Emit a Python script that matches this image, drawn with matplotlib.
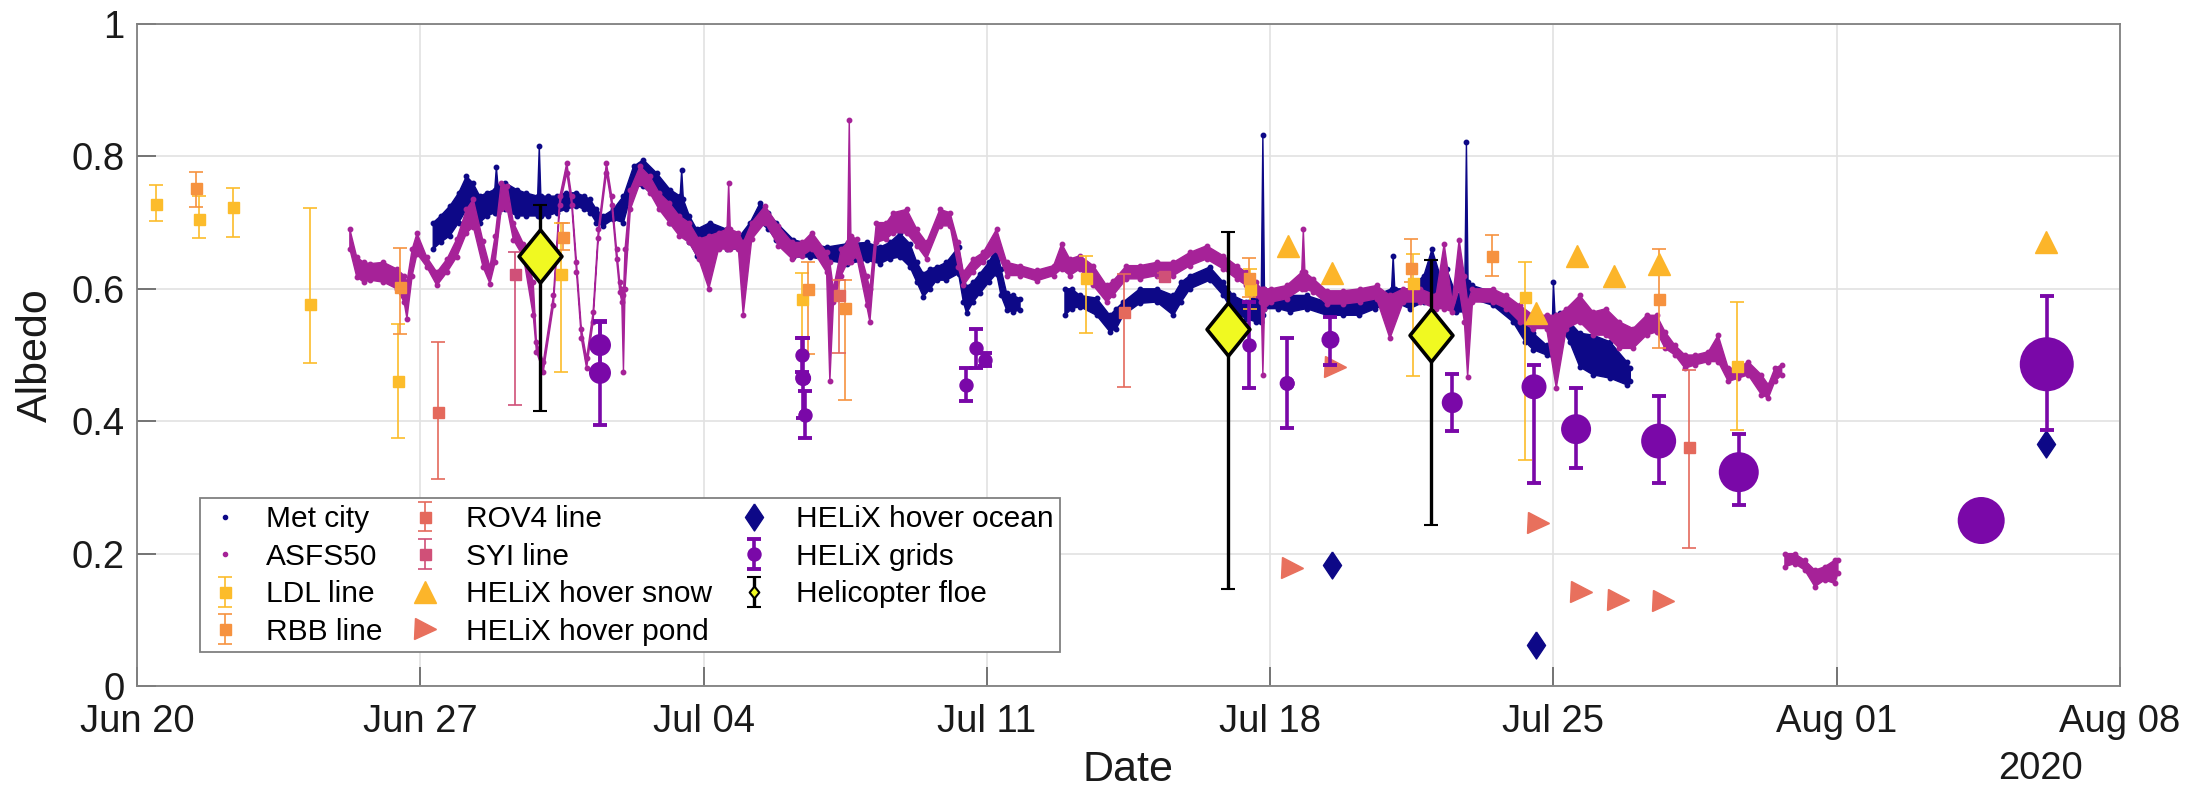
import numpy as np
import matplotlib
matplotlib.use("Agg")
import matplotlib.pyplot as plt
import matplotlib.dates as mdates
from matplotlib.lines import Line2D
from matplotlib.ticker import FormatStrFormatter

plt.rcParams["font.family"] = ["Liberation Sans", "DejaVu Sans"]

# ---- data: days after 2020-06-20 00:00, albedo ----
# Met city / ASFS50 are dense 1-min records: kept here as lower/upper envelope
met_day = [7.32, 7.50, 7.73, 7.95, 8.14, 8.30, 8.47, 8.65, 8.84, 8.88, 8.92, 9.10, 9.38, 9.60,
           9.90, 9.94, 9.98, 10.15, 10.37, 10.60, 10.86, 11.05, 11.20, 11.35, 11.52, 11.77,
           12.02, 12.27, 12.51, 12.84, 13.17, 13.42, 13.46, 13.50, 13.65, 13.83, 14.16, 14.57,
           14.90, 15.15, 15.40, 15.60, 15.80, 16.22, 16.63, 17.04, 17.54, 18.03, 18.36, 18.60,
           18.85, 19.10, 19.27, 19.43, 19.60, 19.76, 20.00, 20.30, 20.42, 20.50, 20.66, 20.83,
           21.05, 21.24, 21.35, 21.49, 21.65, 21.82, 22.40, 22.93, 23.10, 23.30, 23.71, 24.04,
           24.20, 24.37, 24.78, 25.20, 25.61, 25.80, 26.02, 26.51, 26.84, 27.08, 27.41, 27.65,
           27.78, 27.82, 27.86, 28.20, 28.50, 28.90, 29.40, 29.80, 30.20, 30.60, 31.00, 31.04,
           31.08, 31.45, 31.80, 32.00, 32.20, 32.36, 32.60, 32.81, 32.85, 32.89, 33.00, 33.50,
           34.00, 34.30, 34.50, 34.83, 34.96, 35.00, 35.04, 35.16, 35.40, 35.65, 35.98, 36.40,
           36.81, 36.90]
met_lo = [.66, .67, .68, .70, .72, .71, .70, .71, .715, .715, .715, .72, .71, .71,
          .71, .71, .71, .71, .715, .72, .725, .72, .715, .70, .695, .705,
          .70, .755, .755, .735, .70, .70, .70, .70, .67, .65, .675, .66,
          .66, .68, .70, .69, .673, .648, .648, .643, .638, .643, .638, .645,
          .648, .633, .61, .588, .60, .613, .613, .623, .58, .563, .58, .593,
          .61, .623, .59, .568, .565, .568, np.nan, .56, .57, .573, .56, .535,
          .54, .56, .578, .58, .56, .58, .60, .613, .59, .565, .555, .55,
          .55, .56, .57, .57, .565, .57, .56, .56, .56, .57, .58, .58,
          .58, .57, .58, .59, .58, .58, .565, .565, .58, .58, .585, .575,
          .55, .52, .508, .50, .50, .51, .52, .543, .52, .482, .47, .465,
          .455, .46]
met_hi = [.70, .71, .725, .745, .77, .76, .74, .745, .75, .784, .755, .76, .75, .745,
          .74, .815, .74, .74, .74, .745, .745, .74, .735, .72, .71, .72,
          .74, .785, .795, .775, .75, .74, .78, .735, .71, .69, .70, .69,
          .68, .70, .73, .715, .70, .674, .668, .663, .668, .67, .663, .67,
          .684, .668, .64, .623, .63, .633, .64, .663, .62, .603, .61, .623,
          .64, .663, .63, .593, .59, .585, np.nan, .60, .60, .59, .586, .56,
          .57, .58, .60, .60, .59, .61, .62, .633, .61, .59, .58, .59,
          .59, .832, .60, .59, .59, .59, .58, .58, .58, .59, .60, .65,
          .60, .60, .62, .66, .62, .63, .59, .60, .822, .61, .605, .595,
          .57, .55, .533, .515, .52, .61, .56, .563, .55, .533, .53, .52,
          .49, .48]

asfs_day = [5.26, 5.43, 5.60, 5.76, 6.09, 6.42, 6.60, 6.67, 6.80, 6.92, 7.16, 7.41, 7.66, 7.90,
            8.14, 8.31, 8.55, 8.72, 8.85, 9.00, 9.15, 9.30, 9.55, 9.79, 9.87, 10.04, 10.29,
            10.45, 10.62, 10.74, 10.86, 10.98, 11.11, 11.27, 11.40, 11.60, 11.73, 11.85, 11.93,
            11.98, 12.02, 12.06, 12.19, 12.43, 12.67, 12.90, 13.15, 13.40, 13.64, 13.88, 14.13,
            14.37, 14.58, 14.62, 14.66, 14.86, 14.98, 15.19, 15.52, 15.85, 16.19, 16.44, 16.68,
            17.04, 17.12, 17.21, 17.40, 17.56, 17.60, 17.64, 17.78, 18.03, 18.11, 18.27, 18.52,
            18.69, 19.02, 19.27, 19.51, 19.84, 20.09, 20.29, 20.42, 20.66, 20.91, 21.24, 21.49,
            21.82, 22.23, 22.65, 22.85, 23.05, 23.30, 23.63, 23.96, 24.12, 24.45, 24.78, 25.20,
            25.61, 26.02, 26.43, 26.84, 27.17, 27.41, 27.65, 27.78, 27.82, 27.86, 28.03, 28.41,
            28.78, 28.82, 28.86, 29.07, 29.40, 29.81, 30.22, 30.63, 30.96, 31.29, 31.70, 32.10,
            32.30, 32.50, 32.67, 32.80, 32.88, 33.00, 33.50, 33.84, 34.17, 34.50, 34.83, 35.07,
            35.32, 35.65, 35.98, 36.30, 36.63, 36.97, 37.30, 37.55, 37.76, 38.00, 38.25, 38.50,
            38.83, 39.07, 39.32, 39.57, 39.81, 40.14, 40.31, 40.47, 40.64, 40.68, 40.72, 40.96,
            41.21, 41.46, 41.70, 41.95, 42.03]
asfs_lo = [.66, .618, .61, .613, .61, .60, .58, .555, .62, .653, .633, .605, .625, .648,
           .684, .694, .633, .608, .64, .72, .72, .674, .648, .56, .505, .475, .575,
           .727, .775, .727, .625, .525, .48, .55, .677, .775, .727, .645, .595,
           .58, .475, .60, .72, .76, .745, .72, .70, .68, .67, .645, .60,
           .66, .66, .66, .66, .66, .56, .675, .70, .665, .645, .65, .66,
           .625, .46, .58, .62, .64, .64, .64, .65, .575, .55, .67, .675,
           .685, .684, .665, .645, .695, .695, .633, .605, .625, .64, .658, .62,
           .62, .612, .62, .63, .62, .63, .605, .58, .59, .615, .615, .62,
           .62, .635, .645, .63, .615, .605, .59, .58, .47, .57, .58, .585,
           .60, .605, .60, .595, .577, .577, .58, .585, .525, .58, .58, .57,
           .57, .565, .60, .55, .467, .58, .58, .57, .55, .54, .54, .45,
           .54, .55, .53, .53, .51, .51, .53, .535, .51, .50, .48, .485,
           .49, .49, .46, .465, .47, .44, .435, .46, .47, np.nan, .18, .185,
           .175, .15, .16, .155, .17]
asfs_hi = [.69, .648, .64, .638, .64, .63, .62, .61, .66, .684, .648, .625, .645, .675,
           .72, .735, .672, .633, .68, .76, .755, .70, .668, .61, .52, .49, .59,
           .74, .79, .74, .64, .54, .495, .565, .69, .79, .74, .66, .61,
           .60, .59, .66, .75, .785, .77, .745, .73, .71, .70, .675, .68,
           .685, .69, .76, .69, .685, .67, .70, .725, .695, .67, .67, .685,
           .655, .64, .60, .66, .67, .855, .68, .675, .62, .60, .70, .70,
           .715, .72, .69, .67, .72, .715, .67, .625, .645, .655, .69, .64,
           .635, .628, .635, .668, .645, .65, .635, .605, .612, .635, .635, .64,
           .64, .655, .665, .65, .635, .625, .61, .60, .60, .60, .60, .605,
           .625, .69, .625, .615, .597, .597, .60, .605, .59, .60, .60, .59,
           .668, .58, .674, .62, .58, .60, .60, .59, .575, .56, .56, .56,
           .57, .59, .565, .57, .55, .54, .56, .56, .535, .515, .50, .50,
           .505, .53, .48, .48, .49, .47, .455, .48, .485, np.nan, .20, .20,
           .19, .175, .18, .19, .19]

ldl_day = [0.46, 1.52, 2.38, 4.28, 6.46, 10.48, 16.43, 23.46, 27.50, 31.52, 34.30, 39.53]
ldl_val = [0.728, 0.705, 0.724, 0.577, 0.461, 0.623, 0.584, 0.617, 0.600, 0.609, 0.588, 0.483]
ldl_lo = [0.025, 0.029, 0.046, 0.089, 0.086, 0.148, 0.060, 0.084, 0.030, 0.141, 0.247, 0.097]
ldl_hi = [0.029, 0.035, 0.028, 0.145, 0.086, 0.076, 0.040, 0.033, 0.030, 0.044, 0.052, 0.097]

rbb_day = [1.46, 6.51, 10.53, 16.59, 17.49, 27.48, 31.49, 33.47, 37.62]
rbb_val = [0.752, 0.602, 0.679, 0.599, 0.571, 0.617, 0.631, 0.649, 0.585]
rbb_lo = [0.029, 0.071, 0.020, 0.097, 0.139, 0.030, 0.020, 0.030, 0.075]
rbb_hi = [0.025, 0.059, 0.020, 0.042, 0.042, 0.030, 0.044, 0.033, 0.075]

rov_day = [7.45, 17.35, 24.38, 38.34]
rov_val = [0.414, 0.591, 0.565, 0.361]
rov_lo = [0.101, 0.088, 0.113, 0.153]
rov_hi = [0.105, 0.022, 0.058, 0.116]

syi_day = [9.34, 25.38]
syi_val = [0.623, 0.620]
syi_lo = [0.199, 0.004]
syi_hi = [0.033, 0.004]

snow_day = [28.45, 29.54, 34.57, 35.57, 36.50, 37.60, 47.18]
snow_val = [0.665, 0.624, 0.563, 0.649, 0.619, 0.638, 0.671]

pond_day = [28.53, 29.60, 34.63, 35.67, 36.60, 37.70]
pond_val = [0.178, 0.482, 0.246, 0.142, 0.130, 0.128]

ocean_day = [29.54, 34.56, 47.18]
ocean_val = [0.183, 0.062, 0.366]

grid_day = [11.44, 11.44, 16.44, 16.46, 16.50, 20.48, 20.73, 20.95, 27.48, 28.42, 29.49,
            32.50, 34.52, 35.56, 37.60, 39.58, 45.57, 47.19]
grid_val = [0.515, 0.473, 0.500, 0.465, 0.410, 0.455, 0.510, 0.493, 0.515, 0.457, 0.523,
            0.428, 0.452, 0.388, 0.370, 0.323, 0.250, 0.486]
grid_lo = [0.035, 0.079, 0.025, 0.060, 0.035, 0.025, 0.030, 0.010, 0.065, 0.068, 0.038,
           0.043, 0.146, 0.059, 0.063, 0.050, 0.0, 0.099]
grid_hi = [0.035, 0.079, 0.025, 0.060, 0.035, 0.025, 0.030, 0.010, 0.065, 0.068, 0.035,
           0.043, 0.033, 0.062, 0.068, 0.057, 0.0, 0.103]

floe_day = [9.96, 26.95, 31.97]
floe_val = [0.649, 0.540, 0.530]
floe_lo = [0.233, 0.394, 0.287]
floe_hi = [0.078, 0.146, 0.113]

# marker diameters (px) of the grid circles
grid_marker_px = [22, 22, 12, 16, 12, 10, 10, 10, 12, 15, 18, 21, 25, 30, 35, 40, 47, 54]

START = np.datetime64("2020-06-20T00:00")


def to_date(days):
    days = np.asarray(days, dtype=float)
    return START + np.round(days * 1440).astype("timedelta64[m]")


PT = 0.72  # points per pixel at dpi 100
NAVY = "#0d0887"
MAGENTA = "#a62298"
PURPLE = "#7a08a8"
LDL_C = "#fcbc2b"
RBB_C = "#f6923f"
ROV_C = "#e4695c"
SYI_C = "#d05078"
SNOW_C = "#fcb52a"
POND_C = "#e8705d"
YELLOW = "#f0f921"

floe_diamond = [(0, 1), (0.81, 0), (0, -1), (-0.81, 0), (0, 1)]
ocean_diamond = [(0, 1), (0.67, 0), (0, -1), (-0.67, 0), (0, 1)]

fig = plt.figure(figsize=(22.09, 7.91), dpi=100)
ax = fig.add_axes([137 / 2209, 105 / 791, 1983 / 2209, 662 / 791])

# dense records: envelope band with dotted edges
for d, lo, hi, c, z in [(met_day, met_lo, met_hi, NAVY, 2),
                        (asfs_day, asfs_lo, asfs_hi, MAGENTA, 3)]:
    t = to_date(d)
    ax.fill_between(t, lo, hi, color=c, lw=1.0, zorder=z)
    ax.plot(t, lo, ls="none", marker="o", ms=3.2, color=c, zorder=z)
    ax.plot(t, hi, ls="none", marker="o", ms=3.2, color=c, zorder=z)


def line_bar(days, vals, lo, hi, color):
    return ax.errorbar(to_date(days), vals, yerr=[lo, hi], fmt="s", color=color,
                       ms=11 * PT, mec=color, elinewidth=1.2, capsize=4.7,
                       capthick=1.2, zorder=4)


h_ldl = line_bar(ldl_day, ldl_val, ldl_lo, ldl_hi, LDL_C)
h_rbb = line_bar(rbb_day, rbb_val, rbb_lo, rbb_hi, RBB_C)
h_rov = line_bar(rov_day, rov_val, rov_lo, rov_hi, ROV_C)
h_syi = line_bar(syi_day, syi_val, syi_lo, syi_hi, SYI_C)

h_snow, = ax.plot(to_date(snow_day), snow_val, ls="none", marker="^", ms=23 * PT,
                  color=SNOW_C, zorder=5)
h_pond, = ax.plot(to_date(pond_day), pond_val, ls="none", marker=">", ms=21 * PT,
                  color=POND_C, zorder=5)
h_ocean, = ax.plot(to_date(ocean_day), ocean_val, ls="none", marker=ocean_diamond,
                   ms=27 * PT, color=NAVY, zorder=5)

h_grid = ax.errorbar(to_date(grid_day), grid_val, yerr=[grid_lo, grid_hi], fmt="o",
                     color=PURPLE, ms=13 * PT, elinewidth=2.6, capsize=4.7,
                     capthick=2.8, zorder=6)
ax.scatter(to_date(grid_day), grid_val, s=(np.array(grid_marker_px) * PT) ** 2,
           color=PURPLE, lw=0, zorder=6)

# helicopter floe: the small diamond inside the errorbar is the legend key,
# the big diamond is drawn on top of it
h_floe_key = ax.errorbar(to_date(floe_day), floe_val, yerr=[floe_lo, floe_hi], ls="none",
                         marker=floe_diamond, ms=12 * PT, mfc=YELLOW, mec="black",
                         mew=1.5, ecolor="black", elinewidth=2.4, capsize=4.7,
                         capthick=3, zorder=7)
ax.plot(to_date(floe_day), floe_val, ls="none", marker=floe_diamond, ms=53 * PT,
        mfc=YELLOW, mec="black", mew=2.6, zorder=8)

ax.set_ylim(0, 1)
ax.set_yticks(np.arange(0, 1.01, 0.2))
ax.yaxis.set_major_formatter(FormatStrFormatter("%g"))
ax.set_xlim(to_date(0), to_date(49))
ax.set_xticks(to_date(np.arange(0, 50, 7)))
ax.xaxis.set_major_formatter(mdates.DateFormatter("%b %d"))

ax.grid(True, color="#e2e2e2", lw=1.2)
ax.set_axisbelow(True)
for sp in ax.spines.values():
    sp.set_color("#808080")
    sp.set_linewidth(1.3)
ax.tick_params(direction="in", length=14, width=1.1, color="#555555",
               labelsize=27.5, labelcolor="#1a1a1a")
ax.tick_params(axis="x", pad=13)
ax.tick_params(axis="y", pad=9)

ax.set_xlabel("Date", fontsize=31, labelpad=7, color="#1a1a1a")
ax.set_ylabel("Albedo", fontsize=31, labelpad=11, color="#1a1a1a")
ax.text(0.96, -0.125, "2020", transform=ax.transAxes, ha="center", va="center",
        fontsize=27.5, color="#1a1a1a")

met_key = Line2D([], [], ls="none", marker=".", ms=6, color=NAVY)
asfs_key = Line2D([], [], ls="none", marker=".", ms=6, color=MAGENTA)

handles = [met_key, asfs_key, h_ldl, h_rbb, h_rov, h_syi, h_snow, h_pond, h_ocean,
           h_grid, h_floe_key]
labels = ["Met city", "ASFS50", "LDL line", "RBB line", "ROV4 line", "SYI line",
          "HELiX hover snow", "HELiX hover pond", "HELiX hover ocean", "HELiX grids",
          "Helicopter floe"]
leg = ax.legend(handles, labels, ncol=3, loc="lower left", bbox_to_anchor=(0.0318, 0.051),
                borderaxespad=0, fontsize=21.5, frameon=True, fancybox=False,
                edgecolor="#808080", framealpha=1, borderpad=0.22, labelspacing=0.32,
                handlelength=1.2, handletextpad=0.8, columnspacing=0.8)
leg.get_frame().set_linewidth(1.3)
leg.set_zorder(20)

fig.savefig("out.png", dpi=100)
